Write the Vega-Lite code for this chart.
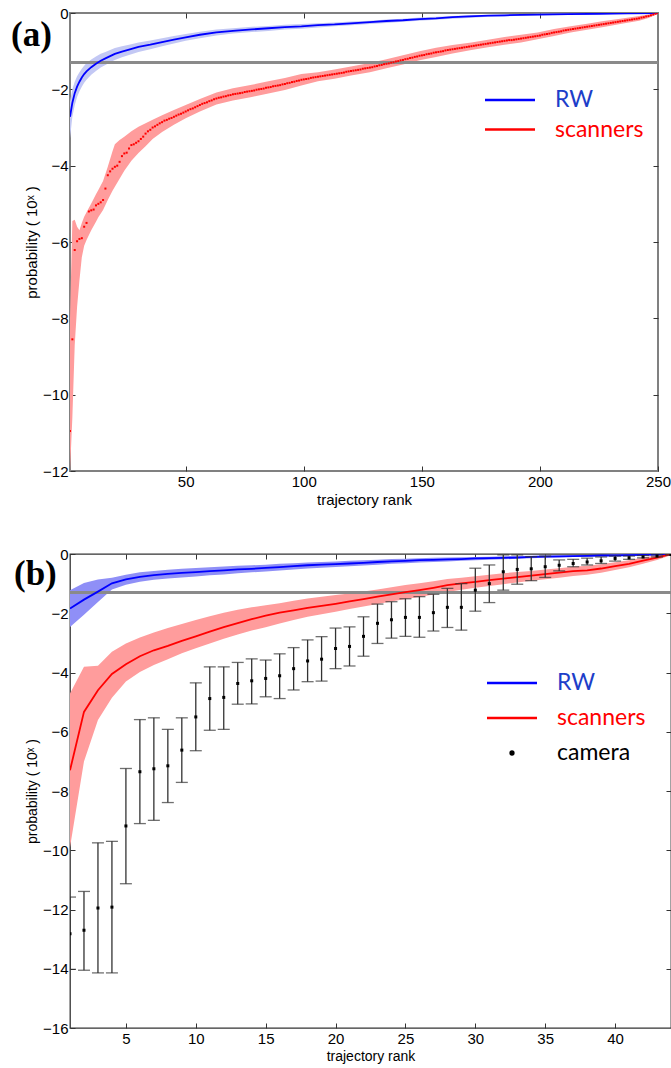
{
"$schema": "https://vega.github.io/schema/vega-lite/v6.json",
"padding": {"left": 10, "top": 5, "right": 0, "bottom": 4},
"background": "white",
"spacing": 38,
"resolve": {"scale": {"color": "independent"}, "legend": {"color": "independent"}},
"datasets": {
"rwA": [
{"r":1,"b":-2.72,"lo":-3.28,"hi":-2.32},{"r":2,"b":-2.35,"lo":-2.72,"hi":-2.0},{"r":3,"b":-2.1,"lo":-2.42,"hi":-1.8},{"r":4,"b":-1.93,"lo":-2.2,"hi":-1.66},{"r":5,"b":-1.8,"lo":-2.05,"hi":-1.55},{"r":6,"b":-1.69,"lo":-1.93,"hi":-1.46},{"r":7,"b":-1.6,"lo":-1.83,"hi":-1.38},{"r":8,"b":-1.53,"lo":-1.75,"hi":-1.31},{"r":10,"b":-1.42,"lo":-1.62,"hi":-1.22},{"r":12,"b":-1.33,"lo":-1.52,"hi":-1.14},{"r":14,"b":-1.25,"lo":-1.43,"hi":-1.07},{"r":16,"b":-1.19,"lo":-1.36,"hi":-1.02},{"r":18,"b":-1.13,"lo":-1.29,"hi":-0.97},{"r":20,"b":-1.07,"lo":-1.23,"hi":-0.92},{"r":23,"b":-1.01,"lo":-1.16,"hi":-0.87},{"r":26,"b":-0.96,"lo":-1.1,"hi":-0.83},{"r":30,"b":-0.89,"lo":-1.02,"hi":-0.77},{"r":35,"b":-0.83,"lo":-0.95,"hi":-0.72},{"r":40,"b":-0.76,"lo":-0.87,"hi":-0.66},{"r":45,"b":-0.7,"lo":-0.8,"hi":-0.6},{"r":50,"b":-0.64,"lo":-0.73,"hi":-0.55},{"r":56,"b":-0.57,"lo":-0.66,"hi":-0.49},{"r":63,"b":-0.51,"lo":-0.59,"hi":-0.43},{"r":70,"b":-0.47,"lo":-0.54,"hi":-0.4},{"r":78,"b":-0.43,"lo":-0.5,"hi":-0.36},{"r":85,"b":-0.4,"lo":-0.47,"hi":-0.34},{"r":92,"b":-0.37,"lo":-0.43,"hi":-0.31},{"r":99,"b":-0.35,"lo":-0.41,"hi":-0.29},{"r":106,"b":-0.32,"lo":-0.38,"hi":-0.27},{"r":113,"b":-0.3,"lo":-0.35,"hi":-0.25},{"r":120,"b":-0.27,"lo":-0.32,"hi":-0.22},{"r":128,"b":-0.24,"lo":-0.29,"hi":-0.2},{"r":135,"b":-0.21,"lo":-0.26,"hi":-0.17},{"r":142,"b":-0.19,"lo":-0.23,"hi":-0.15},{"r":149,"b":-0.16,"lo":-0.2,"hi":-0.12},{"r":156,"b":-0.14,"lo":-0.18,"hi":-0.1},{"r":163,"b":-0.11,"lo":-0.15,"hi":-0.08},{"r":170,"b":-0.09,"lo":-0.13,"hi":-0.06},{"r":178,"b":-0.07,"lo":-0.1,"hi":-0.05},{"r":185,"b":-0.06,"lo":-0.09,"hi":-0.04},{"r":192,"b":-0.05,"lo":-0.07,"hi":-0.03},{"r":199,"b":-0.04,"lo":-0.06,"hi":-0.02},{"r":212,"b":-0.03,"lo":-0.05,"hi":-0.01},{"r":225,"b":-0.02,"lo":-0.03,"hi":-0.01},{"r":237,"b":-0.01,"lo":-0.02,"hi":0},{"r":250,"b":0,"lo":0,"hi":0}
],
"scBandA": [
{"r":1,"lo":-12,"hi":-8.0},{"r":2,"lo":-10.6,"hi":-5.45},{"r":3,"lo":-8.7,"hi":-5.42},{"r":4,"lo":-7.7,"hi":-5.6},{"r":5,"lo":-7.0,"hi":-5.69},{"r":6,"lo":-6.4,"hi":-5.5},{"r":7,"lo":-6.1,"hi":-5.34},{"r":8,"lo":-5.95,"hi":-5.22},{"r":10,"lo":-5.69,"hi":-4.99},{"r":12,"lo":-5.47,"hi":-4.75},{"r":13,"lo":-5.35,"hi":-4.64},{"r":15,"lo":-5.16,"hi":-4.4},{"r":17,"lo":-4.9,"hi":-4.03},{"r":19,"lo":-4.66,"hi":-3.62},{"r":20,"lo":-4.55,"hi":-3.44},{"r":22,"lo":-4.34,"hi":-3.33},{"r":24,"lo":-4.13,"hi":-3.24},{"r":27,"lo":-3.87,"hi":-3.1},{"r":30,"lo":-3.67,"hi":-2.98},{"r":33,"lo":-3.49,"hi":-2.89},{"r":36,"lo":-3.3,"hi":-2.8},{"r":40,"lo":-3.12,"hi":-2.68},{"r":45,"lo":-2.93,"hi":-2.54},{"r":50,"lo":-2.76,"hi":-2.41},{"r":56,"lo":-2.58,"hi":-2.25},{"r":63,"lo":-2.4,"hi":-2.08},{"r":70,"lo":-2.29,"hi":-1.97},{"r":78,"lo":-2.2,"hi":-1.88},{"r":85,"lo":-2.11,"hi":-1.79},{"r":92,"lo":-2.02,"hi":-1.7},{"r":99,"lo":-1.9,"hi":-1.6},{"r":106,"lo":-1.79,"hi":-1.55},{"r":113,"lo":-1.72,"hi":-1.48},{"r":120,"lo":-1.64,"hi":-1.4},{"r":128,"lo":-1.55,"hi":-1.31},{"r":135,"lo":-1.45,"hi":-1.21},{"r":142,"lo":-1.35,"hi":-1.11},{"r":149,"lo":-1.24,"hi":-1.0},{"r":156,"lo":-1.15,"hi":-0.91},{"r":163,"lo":-1.06,"hi":-0.84},{"r":171,"lo":-0.97,"hi":-0.77},{"r":178,"lo":-0.9,"hi":-0.7},{"r":185,"lo":-0.83,"hi":-0.63},{"r":192,"lo":-0.77,"hi":-0.57},{"r":199,"lo":-0.69,"hi":-0.51},{"r":206,"lo":-0.6,"hi":-0.42},{"r":213,"lo":-0.51,"hi":-0.35},{"r":220,"lo":-0.44,"hi":-0.28},{"r":227,"lo":-0.37,"hi":-0.21},{"r":234,"lo":-0.29,"hi":-0.15},{"r":242,"lo":-0.2,"hi":-0.08},{"r":246,"lo":-0.13,"hi":-0.04},{"r":250,"lo":-0.02,"hi":0}
],
"scA": [
{"r":1,"s":-10.95},{"r":2,"s":-8.55},{"r":3,"s":-6.21},{"r":4,"s":-5.98},{"r":5,"s":-5.92},{"r":6,"s":-5.9},{"r":7,"s":-5.6},{"r":8,"s":-5.5},{"r":9,"s":-5.2},{"r":10,"s":-5.17},
{"r":11,"s":-5.15},{"r":12,"s":-5.04},{"r":13,"s":-5.0},{"r":14,"s":-4.96},{"r":15,"s":-4.9},{"r":16,"s":-4.6},{"r":17,"s":-4.25},{"r":18,"s":-4.15},{"r":19,"s":-4.08},{"r":20,"s":-4.03},
{"r":21,"s":-4.0},{"r":22,"s":-3.9},{"r":23,"s":-3.75},{"r":24,"s":-3.68},{"r":25,"s":-3.66},{"r":26,"s":-3.55},{"r":27,"s":-3.46},{"r":28,"s":-3.44},{"r":29,"s":-3.4},{"r":30,"s":-3.36},
{"r":31,"s":-3.3},{"r":32,"s":-3.24},{"r":33,"s":-3.16},{"r":34,"s":-3.1},{"r":35,"s":-3.06},{"r":36,"s":-3.0},{"r":37,"s":-2.97},{"r":38,"s":-2.93},{"r":39,"s":-2.89},{"r":40,"s":-2.86},
{"r":41,"s":-2.82},{"r":42,"s":-2.8},{"r":43,"s":-2.77},{"r":44,"s":-2.75},{"r":45,"s":-2.72},{"r":46,"s":-2.69},{"r":47,"s":-2.66},{"r":48,"s":-2.64},{"r":49,"s":-2.61},{"r":50,"s":-2.58},
{"r":51,"s":-2.55},{"r":52,"s":-2.52},{"r":53,"s":-2.5},{"r":54,"s":-2.47},{"r":55,"s":-2.44},{"r":56,"s":-2.41},{"r":57,"s":-2.38},{"r":58,"s":-2.36},{"r":59,"s":-2.34},{"r":60,"s":-2.31},
{"r":61,"s":-2.29},{"r":62,"s":-2.26},{"r":63,"s":-2.24},{"r":64,"s":-2.22},{"r":65,"s":-2.21},{"r":66,"s":-2.19},{"r":67,"s":-2.18},{"r":68,"s":-2.16},{"r":69,"s":-2.15},{"r":70,"s":-2.13},
{"r":71,"s":-2.12},{"r":72,"s":-2.11},{"r":73,"s":-2.1},{"r":74,"s":-2.09},{"r":75,"s":-2.07},{"r":76,"s":-2.06},{"r":77,"s":-2.05},{"r":78,"s":-2.04},{"r":79,"s":-2.03},{"r":80,"s":-2.01},
{"r":81,"s":-2.0},{"r":82,"s":-1.99},{"r":83,"s":-1.98},{"r":84,"s":-1.96},{"r":85,"s":-1.95},{"r":86,"s":-1.94},{"r":87,"s":-1.92},{"r":88,"s":-1.91},{"r":89,"s":-1.9},{"r":90,"s":-1.89},
{"r":91,"s":-1.87},{"r":92,"s":-1.86},{"r":93,"s":-1.84},{"r":94,"s":-1.83},{"r":95,"s":-1.81},{"r":96,"s":-1.8},{"r":97,"s":-1.78},{"r":98,"s":-1.77},{"r":99,"s":-1.75},{"r":100,"s":-1.74},
{"r":101,"s":-1.73},{"r":102,"s":-1.72},{"r":103,"s":-1.7},{"r":104,"s":-1.69},{"r":105,"s":-1.68},{"r":106,"s":-1.67},{"r":107,"s":-1.66},{"r":108,"s":-1.65},{"r":109,"s":-1.64},{"r":110,"s":-1.63},
{"r":111,"s":-1.62},{"r":112,"s":-1.61},{"r":113,"s":-1.6},{"r":114,"s":-1.59},{"r":115,"s":-1.58},{"r":116,"s":-1.57},{"r":117,"s":-1.56},{"r":118,"s":-1.54},{"r":119,"s":-1.53},{"r":120,"s":-1.52},
{"r":121,"s":-1.51},{"r":122,"s":-1.5},{"r":123,"s":-1.49},{"r":124,"s":-1.48},{"r":125,"s":-1.46},{"r":126,"s":-1.45},{"r":127,"s":-1.44},{"r":128,"s":-1.43},{"r":129,"s":-1.42},{"r":130,"s":-1.4},
{"r":131,"s":-1.39},{"r":132,"s":-1.37},{"r":133,"s":-1.36},{"r":134,"s":-1.34},{"r":135,"s":-1.33},{"r":136,"s":-1.32},{"r":137,"s":-1.3},{"r":138,"s":-1.29},{"r":139,"s":-1.27},{"r":140,"s":-1.26},
{"r":141,"s":-1.24},{"r":142,"s":-1.23},{"r":143,"s":-1.21},{"r":144,"s":-1.2},{"r":145,"s":-1.18},{"r":146,"s":-1.17},{"r":147,"s":-1.15},{"r":148,"s":-1.14},{"r":149,"s":-1.12},{"r":150,"s":-1.11},
{"r":151,"s":-1.1},{"r":152,"s":-1.08},{"r":153,"s":-1.07},{"r":154,"s":-1.06},{"r":155,"s":-1.04},{"r":156,"s":-1.03},{"r":157,"s":-1.02},{"r":158,"s":-1.01},{"r":159,"s":-1.0},{"r":160,"s":-0.98},
{"r":161,"s":-0.97},{"r":162,"s":-0.96},{"r":163,"s":-0.95},{"r":164,"s":-0.94},{"r":165,"s":-0.93},{"r":166,"s":-0.92},{"r":167,"s":-0.91},{"r":168,"s":-0.9},{"r":169,"s":-0.89},{"r":170,"s":-0.88},
{"r":171,"s":-0.87},{"r":172,"s":-0.86},{"r":173,"s":-0.85},{"r":174,"s":-0.84},{"r":175,"s":-0.83},{"r":176,"s":-0.82},{"r":177,"s":-0.81},{"r":178,"s":-0.8},{"r":179,"s":-0.79},{"r":180,"s":-0.78},
{"r":181,"s":-0.77},{"r":182,"s":-0.76},{"r":183,"s":-0.75},{"r":184,"s":-0.74},{"r":185,"s":-0.73},{"r":186,"s":-0.72},{"r":187,"s":-0.71},{"r":188,"s":-0.71},{"r":189,"s":-0.7},{"r":190,"s":-0.69},
{"r":191,"s":-0.68},{"r":192,"s":-0.67},{"r":193,"s":-0.66},{"r":194,"s":-0.65},{"r":195,"s":-0.64},{"r":196,"s":-0.63},{"r":197,"s":-0.62},{"r":198,"s":-0.61},{"r":199,"s":-0.6},{"r":200,"s":-0.59},
{"r":201,"s":-0.57},{"r":202,"s":-0.56},{"r":203,"s":-0.55},{"r":204,"s":-0.54},{"r":205,"s":-0.52},{"r":206,"s":-0.51},{"r":207,"s":-0.5},{"r":208,"s":-0.49},{"r":209,"s":-0.48},{"r":210,"s":-0.46},
{"r":211,"s":-0.45},{"r":212,"s":-0.44},{"r":213,"s":-0.43},{"r":214,"s":-0.42},{"r":215,"s":-0.41},{"r":216,"s":-0.4},{"r":217,"s":-0.39},{"r":218,"s":-0.38},{"r":219,"s":-0.37},{"r":220,"s":-0.36},
{"r":221,"s":-0.35},{"r":222,"s":-0.34},{"r":223,"s":-0.33},{"r":224,"s":-0.32},{"r":225,"s":-0.31},{"r":226,"s":-0.3},{"r":227,"s":-0.29},{"r":228,"s":-0.28},{"r":229,"s":-0.27},{"r":230,"s":-0.26},
{"r":231,"s":-0.25},{"r":232,"s":-0.24},{"r":233,"s":-0.23},{"r":234,"s":-0.22},{"r":235,"s":-0.21},{"r":236,"s":-0.2},{"r":237,"s":-0.19},{"r":238,"s":-0.18},{"r":239,"s":-0.17},{"r":240,"s":-0.16},
{"r":241,"s":-0.15},{"r":242,"s":-0.14},{"r":243,"s":-0.12},{"r":244,"s":-0.11},{"r":245,"s":-0.09},{"r":246,"s":-0.08},{"r":247,"s":-0.06},{"r":248,"s":-0.04},{"r":249,"s":-0.02},{"r":250,"s":0}
],
"rwB": [
{"r":1,"b":-1.84,"lo":-2.46,"hi":-1.22},{"r":2,"b":-1.54,"lo":-2.05,"hi":-0.98},{"r":3,"b":-1.27,"lo":-1.62,"hi":-0.86},{"r":4,"b":-0.99,"lo":-1.2,"hi":-0.8},{"r":5,"b":-0.86,"lo":-1.04,"hi":-0.7},{"r":6,"b":-0.77,"lo":-0.94,"hi":-0.62},{"r":7,"b":-0.71,"lo":-0.87,"hi":-0.57},{"r":8,"b":-0.67,"lo":-0.83,"hi":-0.53},{"r":9,"b":-0.64,"lo":-0.79,"hi":-0.5},{"r":10,"b":-0.61,"lo":-0.76,"hi":-0.47},{"r":11,"b":-0.58,"lo":-0.72,"hi":-0.45},{"r":12,"b":-0.55,"lo":-0.69,"hi":-0.42},{"r":13,"b":-0.52,"lo":-0.65,"hi":-0.4},{"r":14,"b":-0.5,"lo":-0.62,"hi":-0.38},{"r":15,"b":-0.47,"lo":-0.59,"hi":-0.36},{"r":16,"b":-0.44,"lo":-0.56,"hi":-0.33},{"r":17,"b":-0.41,"lo":-0.52,"hi":-0.31},{"r":18,"b":-0.38,"lo":-0.49,"hi":-0.29},{"r":19,"b":-0.36,"lo":-0.46,"hi":-0.27},{"r":20,"b":-0.34,"lo":-0.44,"hi":-0.25},{"r":21,"b":-0.32,"lo":-0.41,"hi":-0.23},{"r":22,"b":-0.3,"lo":-0.39,"hi":-0.21},{"r":23,"b":-0.27,"lo":-0.36,"hi":-0.19},{"r":24,"b":-0.25,"lo":-0.33,"hi":-0.17},{"r":25,"b":-0.23,"lo":-0.31,"hi":-0.16},{"r":26,"b":-0.21,"lo":-0.29,"hi":-0.14},{"r":27,"b":-0.2,"lo":-0.27,"hi":-0.13},{"r":28,"b":-0.18,"lo":-0.25,"hi":-0.12},{"r":29,"b":-0.17,"lo":-0.23,"hi":-0.11},{"r":30,"b":-0.15,"lo":-0.21,"hi":-0.1},{"r":31,"b":-0.14,"lo":-0.19,"hi":-0.09},{"r":32,"b":-0.13,"lo":-0.18,"hi":-0.08},{"r":33,"b":-0.12,"lo":-0.16,"hi":-0.07},{"r":34,"b":-0.1,"lo":-0.14,"hi":-0.06},{"r":35,"b":-0.09,"lo":-0.13,"hi":-0.05},{"r":36,"b":-0.08,"lo":-0.12,"hi":-0.05},{"r":37,"b":-0.07,"lo":-0.1,"hi":-0.04},{"r":38,"b":-0.06,"lo":-0.09,"hi":-0.03},{"r":39,"b":-0.05,"lo":-0.08,"hi":-0.03},{"r":40,"b":-0.05,"lo":-0.07,"hi":-0.02},{"r":41,"b":-0.04,"lo":-0.06,"hi":-0.02},{"r":42,"b":-0.03,"lo":-0.05,"hi":-0.01},{"r":43,"b":-0.02,"lo":-0.03,"hi":-0.01},{"r":44,"b":-0.01,"lo":-0.02,"hi":0}
],
"scB": [
{"r":1,"s":-7.3,"lo":-9.9,"hi":-4.71},{"r":2,"s":-5.33,"lo":-7.0,"hi":-3.81},{"r":3,"s":-4.6,"lo":-5.6,"hi":-3.77},{"r":4,"s":-4.05,"lo":-4.85,"hi":-3.3},{"r":5,"s":-3.72,"lo":-4.3,"hi":-3.02},{"r":6,"s":-3.45,"lo":-3.98,"hi":-2.82},{"r":7,"s":-3.25,"lo":-3.75,"hi":-2.65},{"r":8,"s":-3.1,"lo":-3.55,"hi":-2.5},{"r":9,"s":-2.93,"lo":-3.35,"hi":-2.36},{"r":10,"s":-2.78,"lo":-3.18,"hi":-2.23},{"r":11,"s":-2.62,"lo":-3.02,"hi":-2.1},{"r":12,"s":-2.47,"lo":-2.86,"hi":-1.98},{"r":13,"s":-2.33,"lo":-2.72,"hi":-1.88},{"r":14,"s":-2.2,"lo":-2.58,"hi":-1.8},{"r":15,"s":-2.08,"lo":-2.47,"hi":-1.73},{"r":16,"s":-1.98,"lo":-2.35,"hi":-1.66},{"r":17,"s":-1.9,"lo":-2.23,"hi":-1.58},{"r":18,"s":-1.82,"lo":-2.12,"hi":-1.5},{"r":19,"s":-1.75,"lo":-2.03,"hi":-1.44},{"r":20,"s":-1.68,"lo":-1.95,"hi":-1.38},{"r":21,"s":-1.6,"lo":-1.86,"hi":-1.33},{"r":22,"s":-1.52,"lo":-1.77,"hi":-1.27},{"r":23,"s":-1.44,"lo":-1.69,"hi":-1.2},{"r":24,"s":-1.36,"lo":-1.6,"hi":-1.12},{"r":25,"s":-1.29,"lo":-1.52,"hi":-1.05},{"r":26,"s":-1.22,"lo":-1.45,"hi":-0.99},{"r":27,"s":-1.14,"lo":-1.37,"hi":-0.92},{"r":28,"s":-1.05,"lo":-1.28,"hi":-0.84},{"r":29,"s":-0.99,"lo":-1.21,"hi":-0.8},{"r":30,"s":-0.94,"lo":-1.14,"hi":-0.75},{"r":31,"s":-0.88,"lo":-1.08,"hi":-0.7},{"r":32,"s":-0.83,"lo":-1.02,"hi":-0.65},{"r":33,"s":-0.78,"lo":-0.96,"hi":-0.61},{"r":34,"s":-0.73,"lo":-0.9,"hi":-0.57},{"r":35,"s":-0.68,"lo":-0.85,"hi":-0.52},{"r":36,"s":-0.63,"lo":-0.8,"hi":-0.48},{"r":37,"s":-0.58,"lo":-0.74,"hi":-0.43},{"r":38,"s":-0.55,"lo":-0.7,"hi":-0.4},{"r":39,"s":-0.49,"lo":-0.63,"hi":-0.35},{"r":40,"s":-0.41,"lo":-0.54,"hi":-0.28},{"r":41,"s":-0.33,"lo":-0.45,"hi":-0.21},{"r":42,"s":-0.22,"lo":-0.33,"hi":-0.12},{"r":43,"s":-0.12,"lo":-0.2,"hi":-0.05},{"r":44,"s":0,"lo":-0.04,"hi":0}
],
"camB": [
{"r":1,"m":-12.82,"lo":-14.02,"hi":-11.58},{"r":2,"m":-12.7,"lo":-14.05,"hi":-11.39},{"r":3,"m":-11.95,"lo":-14.14,"hi":-9.75},{"r":4,"m":-11.92,"lo":-14.14,"hi":-9.7},{"r":5,"m":-9.18,"lo":-11.13,"hi":-7.24},{"r":6,"m":-7.35,"lo":-9.1,"hi":-5.59},{"r":7,"m":-7.25,"lo":-8.99,"hi":-5.53},{"r":8,"m":-7.15,"lo":-8.39,"hi":-5.92},{"r":9,"m":-6.62,"lo":-7.71,"hi":-5.53},{"r":10,"m":-5.5,"lo":-6.64,"hi":-4.35},{"r":11,"m":-4.88,"lo":-5.95,"hi":-3.81},{"r":12,"m":-4.84,"lo":-5.92,"hi":-3.81},{"r":13,"m":-4.37,"lo":-5.07,"hi":-3.66},{"r":14,"m":-4.28,"lo":-5.06,"hi":-3.54},{"r":15,"m":-4.2,"lo":-4.82,"hi":-3.58},{"r":16,"m":-4.11,"lo":-4.88,"hi":-3.37},{"r":17,"m":-3.87,"lo":-4.59,"hi":-3.16},{"r":18,"m":-3.61,"lo":-4.31,"hi":-2.9},{"r":19,"m":-3.55,"lo":-4.29,"hi":-2.79},{"r":20,"m":-3.19,"lo":-3.87,"hi":-2.5},{"r":21,"m":-3.12,"lo":-3.78,"hi":-2.46},{"r":22,"m":-2.78,"lo":-3.45,"hi":-2.12},{"r":23,"m":-2.34,"lo":-3.02,"hi":-1.69},{"r":24,"m":-2.22,"lo":-2.84,"hi":-1.61},{"r":25,"m":-2.14,"lo":-2.78,"hi":-1.51},{"r":26,"m":-2.14,"lo":-2.81,"hi":-1.44},{"r":27,"m":-1.98,"lo":-2.6,"hi":-1.36},{"r":28,"m":-1.8,"lo":-2.48,"hi":-1.16},{"r":29,"m":-1.8,"lo":-2.57,"hi":-1.0},{"r":30,"m":-1.22,"lo":-1.93,"hi":-0.48},{"r":31,"m":-1.0,"lo":-1.64,"hi":-0.37},{"r":32,"m":-0.6,"lo":-1.22,"hi":-0.03},{"r":33,"m":-0.52,"lo":-1.02,"hi":-0.03},{"r":34,"m":-0.5,"lo":-0.9,"hi":-0.09},{"r":35,"m":-0.43,"lo":-0.79,"hi":-0.07},{"r":36,"m":-0.38,"lo":-0.57,"hi":-0.2},{"r":37,"m":-0.32,"lo":-0.43,"hi":-0.18},{"r":38,"m":-0.27,"lo":-0.37,"hi":-0.14},{"r":39,"m":-0.23,"lo":-0.32,"hi":-0.1},{"r":40,"m":-0.15,"lo":-0.24,"hi":-0.07},{"r":41,"m":-0.13,"lo":-0.18,"hi":-0.07},{"r":42,"m":-0.1,"lo":-0.13,"hi":-0.05},{"r":43,"m":-0.07,"lo":-0.1,"hi":-0.03},{"r":44,"m":-0.02,"lo":-0.04,"hi":0}
],
"pval": [{"p": -1.3}]
},
"vconcat": [
{
"width": 588,
"height": 458,
"view": {"stroke": "#808080", "strokeWidth": 2},
"title": {"text": "(a)", "anchor": "start", "frame": "group", "orient": "top", "font": "Liberation Serif", "fontSize": 35, "fontWeight": "bold", "color": "#000000", "dx": -59, "offset": -47},
"resolve": {"axis": {"x": "independent", "y": "independent"}},
"layer": [
{"data": {"name": "rwA"}, "mark": {"type": "area", "color": "#c3c8f4", "opacity": 1, "clip": true},
 "encoding": {
  "x": {"field": "r", "type": "quantitative", "scale": {"domain": [1, 250], "nice": false, "zero": false}, "axis": {"orient": "bottom", "values": [50, 100, 150, 200, 250], "title": "trajectory rank", "labelPadding": 8}},
  "y": {"field": "lo", "type": "quantitative", "scale": {"domain": [-12, 0], "nice": false, "zero": false}, "axis": {"orient": "left", "values": [0, -2, -4, -6, -8, -10, -12], "title": "probability ( 10ˣ )", "labelPadding": 7}},
  "y2": {"field": "hi"}}},
{"data": {"name": "scBandA"}, "mark": {"type": "area", "color": "#ff9c9c", "opacity": 1, "clip": true},
 "encoding": {
  "x": {"field": "r", "type": "quantitative", "axis": {"orient": "top", "values": [50, 100, 150, 200], "labels": false, "title": null}},
  "y": {"field": "lo", "type": "quantitative", "axis": {"orient": "right", "values": [-2, -4, -6, -8, -10], "labels": false, "title": null}},
  "y2": {"field": "hi"}}},
{"data": {"name": "pval"}, "mark": {"type": "rule", "color": "#8a8a8a", "strokeWidth": 3},
 "encoding": {"y": {"field": "p", "type": "quantitative", "axis": null}}},
{"data": {"name": "rwA"}, "mark": {"type": "line", "strokeWidth": 1.8, "clip": true},
 "encoding": {
  "x": {"field": "r", "type": "quantitative", "axis": null},
  "y": {"field": "b", "type": "quantitative", "axis": null},
  "color": {"datum": "RW", "scale": {"domain": ["RW", "scanners"], "range": ["#0000ff", "#ff0000"]},
   "legend": {"orient": "none", "legendX": 424.5, "legendY": 71.5, "title": null, "symbolType": "M-1.7857,0H1.7857", "symbolSize": 784, "symbolStrokeWidth": 2.7, "labelFont": "Lato", "labelFontSize": 23, "labelOffset": 29.5, "rowPadding": 1.5, "padding": 0, "labelLimit": 300,
    "encode": {"symbols": {"update": {"shape": {"value": "M-1.7857,0H1.7857"}, "stroke": {"signal": "datum.value === 'RW' ? '#1d3ec9' : '#ff0000'"}, "fill": {"value": "transparent"}, "opacity": {"value": 1}}},
     "labels": {"update": {"fill": {"signal": "datum.value === 'RW' ? '#1d3ec9' : '#ff0000'"}}}}}}}},
{"data": {"name": "scA"}, "mark": {"type": "point", "filled": true, "shape": "square", "size": 4, "opacity": 1, "clip": true},
 "encoding": {
  "x": {"field": "r", "type": "quantitative", "axis": null},
  "y": {"field": "s", "type": "quantitative", "axis": null},
  "color": {"datum": "scanners"}}}
]
},
{
"width": 601,
"height": 474,
"view": {"stroke": "#333333", "strokeWidth": 1.3},
"title": {"text": "(b)", "anchor": "start", "frame": "group", "orient": "top", "font": "Liberation Serif", "fontSize": 35, "fontWeight": "bold", "color": "#000000", "dx": -56, "offset": -45},
"resolve": {"axis": {"x": "independent", "y": "independent"}},
"layer": [
{"data": {"name": "rwB"}, "mark": {"type": "area", "color": "#8f8ff7", "opacity": 1, "clip": true},
 "encoding": {
  "x": {"field": "r", "type": "quantitative", "scale": {"domain": [1, 44], "nice": false, "zero": false}, "axis": {"orient": "bottom", "values": [5, 10, 15, 20, 25, 30, 35, 40], "title": "trajectory rank", "titleFontSize": 14, "labelPadding": 8}},
  "y": {"field": "lo", "type": "quantitative", "scale": {"domain": [-16, 0], "nice": false, "zero": false}, "axis": {"orient": "left", "values": [0, -2, -4, -6, -8, -10, -12, -14, -16], "title": "probability ( 10ˣ )", "titleFontSize": 14, "labelPadding": 7}},
  "y2": {"field": "hi"}}},
{"data": {"name": "scB"}, "mark": {"type": "area", "color": "#ff9c9c", "opacity": 1, "clip": true},
 "encoding": {
  "x": {"field": "r", "type": "quantitative", "axis": {"orient": "top", "values": [5, 10, 15, 20, 25, 30, 35, 40], "labels": false, "title": null}},
  "y": {"field": "lo", "type": "quantitative", "axis": {"orient": "right", "values": [-2, -4, -6, -8, -10, -12, -14], "labels": false, "title": null}},
  "y2": {"field": "hi"}}},
{"data": {"name": "pval"}, "mark": {"type": "rule", "color": "#8a8a8a", "strokeWidth": 3},
 "encoding": {"y": {"field": "p", "type": "quantitative", "axis": null}}},
{"data": {"name": "rwB"}, "mark": {"type": "line", "strokeWidth": 1.8, "clip": true},
 "encoding": {
  "x": {"field": "r", "type": "quantitative", "axis": null},
  "y": {"field": "b", "type": "quantitative", "axis": null},
  "color": {"datum": "RW", "scale": {"domain": ["RW", "scanners", "camera"], "range": ["#0000ff", "#ff0000", "#000000"]},
   "legend": {"orient": "none", "legendX": 424.5, "legendY": 111.5, "title": null, "symbolType": "M-1.5625,0H1.5625", "symbolSize": 1024, "symbolStrokeWidth": 2.7, "labelFont": "Lato", "labelFontSize": 23, "labelOffset": 27.5, "rowPadding": 5, "padding": 0, "labelLimit": 300,
    "encode": {"symbols": {"update": {"shape": {"signal": "datum.value === 'camera' ? 'M0,-0.08A0.08,0.08,0,1,1,0,0.08A0.08,0.08,0,1,1,0,-0.08Z' : 'M-1.5625,0H1.5625'"}, "stroke": {"signal": "datum.value === 'RW' ? '#1d3ec9' : datum.value === 'scanners' ? '#ff0000' : '#000000'"}, "fill": {"signal": "datum.value === 'camera' ? '#000000' : 'transparent'"}, "opacity": {"value": 1}}},
     "labels": {"update": {"fill": {"signal": "datum.value === 'RW' ? '#1d3ec9' : datum.value === 'scanners' ? '#ff0000' : '#000000'"}}}}}}}},
{"data": {"name": "scB"}, "mark": {"type": "line", "strokeWidth": 1.8, "clip": true},
 "encoding": {
  "x": {"field": "r", "type": "quantitative", "axis": null},
  "y": {"field": "s", "type": "quantitative", "axis": null},
  "color": {"datum": "scanners"}}},
{"data": {"name": "camB"}, "mark": {"type": "errorbar", "ticks": {"size": 12, "thickness": 1.3, "color": "#333333"}, "thickness": 1.3, "color": "#333333", "clip": true},
 "encoding": {
  "x": {"field": "r", "type": "quantitative", "axis": null},
  "y": {"field": "lo", "type": "quantitative", "axis": null},
  "y2": {"field": "hi"}}},
{"data": {"name": "camB"}, "mark": {"type": "point", "filled": true, "shape": "square", "size": 9, "opacity": 1, "clip": true},
 "encoding": {
  "x": {"field": "r", "type": "quantitative", "axis": null},
  "y": {"field": "m", "type": "quantitative", "axis": null},
  "color": {"datum": "camera"}}}
]
}
],
"config": {
 "font": "Liberation Sans",
 "axis": {"grid": false, "domain": false, "labelFont": "Liberation Sans", "labelFontSize": 15, "labelColor": "#000000", "titleFont": "Liberation Sans", "titleFontSize": 15, "titleFontWeight": "normal", "titleColor": "#000000", "tickColor": "#333333", "tickSize": -5, "tickWidth": 1, "labelPadding": 3, "titlePadding": 3, "labelFlush": false, "labelOverlap": false},
 "legend": {"labelColor": "#000000"}
}
}
